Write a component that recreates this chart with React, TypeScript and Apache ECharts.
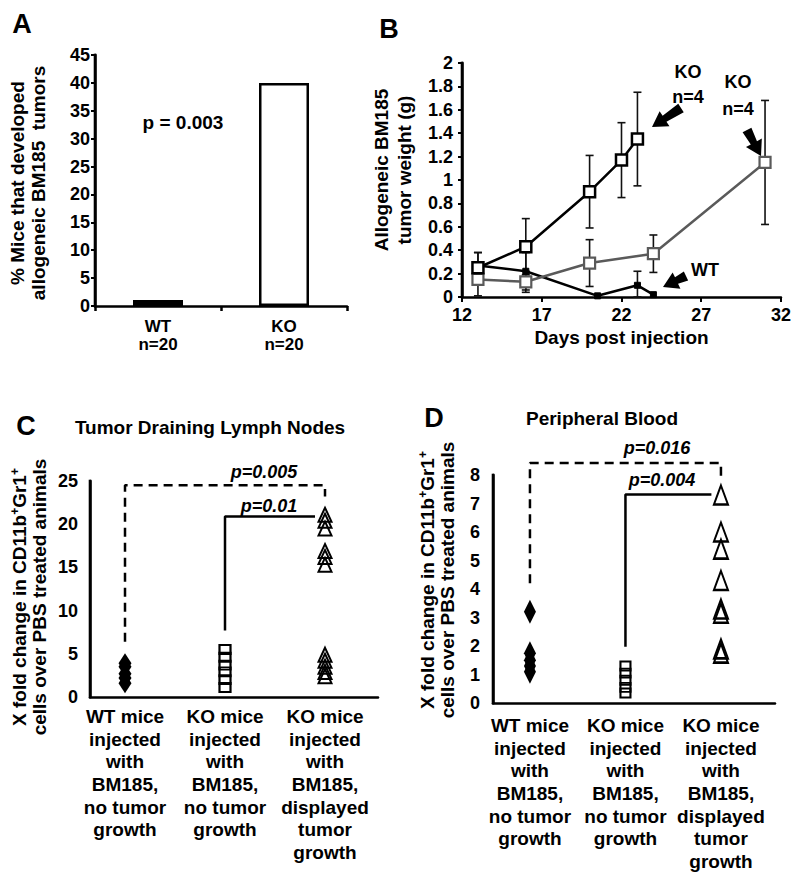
import React, { useEffect, useRef } from 'react';
import * as echarts from 'echarts';

const FONT = '"Liberation Sans", Arial, sans-serif';

// ---------- Panel A ----------
const aCategories = ['WT\nn=20', 'KO\nn=20'];
const aValues = [0, 40];

// ---------- Panel B ----------
const bDaysKO1 = [13, 16, 20, 22, 23];
const bKO1 = [0.25, 0.43, 0.9, 1.17, 1.35];
const bKO1Err = [0.13, 0.24, 0.31, 0.32, 0.4];
const bDaysKO2 = [13, 16, 20, 24, 31];
const bKO2 = [0.15, 0.13, 0.29, 0.37, 1.15];
const bKO2Err = [0.14, 0.09, 0.2, 0.16, 0.53];
const bDaysWT = [13, 16, 20.5, 23, 24];
const bWT = [0.27, 0.22, 0.01, 0.1, 0.02];
const bWTErr = [0.11, 0.16, 0, 0.12, 0];

// ---------- Panels C / D ----------
const groupLabels = [
  'WT mice\ninjected\nwith\nBM185,\nno tumor\ngrowth',
  'KO mice\ninjected\nwith\nBM185,\nno tumor\ngrowth',
  'KO mice\ninjected\nwith\nBM185,\ndisplayed\ntumor\ngrowth',
];
const cWT = [3.9, 3.5, 2.7, 2.2, 1.6];
const cKONo = [5.5, 4.6, 3.7, 2.9, 2.0, 1.1];
const cKOTumor = [21.1, 20.4, 19.5, 16.9, 16.2, 15.3, 4.9, 4.2, 3.5, 2.9, 2.4];
const dWT = [3.2, 1.75, 1.5, 1.3, 1.1];
const dKONo = [1.3, 1.05, 0.8, 0.55, 0.35];
const dKOTumor = [7.3, 6.0, 5.4, 4.3, 3.3, 3.15, 1.9, 1.75];

// significance brackets (group index, value)
const cBracketDashed = [[0, 6.4], [0, 24.5], [2, 24.5], [2, 23.2]];
const cBracketSolid = [[1, 7.7], [1, 20.9], [1.9, 20.9]];
const dBracketDashed = [[0, 4.2], [0, 8.42], [2, 8.42], [2, 7.8]];
const dBracketSolid = [[1, 1.97], [1, 7.32], [1.9, 7.32]];

// axis ranges
const aMax = 45;
const bXMin = 12, bXMax = 32, bYMax = 2;
const cXMin = -0.35, cXMax = 2.53, cYMax = 25;
const dXMin = -0.387, dXMax = 2.566, dYMax = 8;

const black = '#000';
const gray = '#5a5a5a';

const GRIDS = [
  { left: 95, top: 55, width: 252, height: 251 },
  { left: 462, top: 63, width: 323, height: 234 },
  { left: 90, top: 481, width: 288, height: 216 },
  { left: 493, top: 475, width: 282, height: 228 },
];

const mkAxisLine = () => ({ show: true, onZero: false, lineStyle: { color: '#000', width: 2.5, type: 'solid' } });
const lbl = { color: black, fontSize: 18, fontWeight: 'bold', fontFamily: FONT };

function zip(xs: number[], ys: number[]) {
  return xs.map((x, i) => [x, ys[i]]);
}
function errData(xs: number[], ys: number[], es: number[]) {
  const out: number[][] = [];
  xs.forEach((x, i) => {
    if (es[i] > 0) out.push([x, Math.max(0, ys[i] - es[i]), ys[i] + es[i]]);
  });
  return out;
}
function errSeries(data: number[][]) {
  return {
    type: 'custom',
    xAxisIndex: 1,
    yAxisIndex: 1,
    z: 2,
    data,
    encode: { x: 0, y: [1, 2] },
    renderItem: (params: any, api: any) => {
      const x = api.value(0);
      const p1 = api.coord([x, api.value(1)]);
      const p2 = api.coord([x, api.value(2)]);
      const hw = 4;
      const st = { stroke: '#111', lineWidth: 1.6 };
      return {
        type: 'group',
        children: [
          { type: 'line', shape: { x1: p1[0], y1: p1[1], x2: p2[0], y2: p2[1] }, style: st },
          { type: 'line', shape: { x1: p1[0] - hw, y1: p1[1], x2: p1[0] + hw, y2: p1[1] }, style: st },
          { type: 'line', shape: { x1: p2[0] - hw, y1: p2[1], x2: p2[0] + hw, y2: p2[1] }, style: st },
        ],
      };
    },
  };
}

// vertical axis line drawn as a line series at the left edge of a panel
function axisSeries(xAxisIndex: number, yAxisIndex: number, x: number, yMax: number) {
  return {
    type: 'line', xAxisIndex, yAxisIndex, clip: false, z: 6, silent: true,
    data: [[x, 0], [x, yMax]], symbol: 'none',
    lineStyle: { color: black, width: 2.6, cap: 'square' },
  };
}

function arrowPoints(tail: number[], tip: number[], shaft = 3.5, headW = 9, headL = 15) {
  const dx = tip[0] - tail[0];
  const dy = tip[1] - tail[1];
  const L = Math.hypot(dx, dy);
  const ux = dx / L, uy = dy / L;
  const nx = -uy, ny = ux;
  const bx = tip[0] - ux * headL, by = tip[1] - uy * headL;
  return [
    [tail[0] + nx * (shaft + 1.5), tail[1] + ny * (shaft + 1.5)],
    [bx + nx * shaft, by + ny * shaft],
    [bx + nx * headW, by + ny * headW],
    tip,
    [bx - nx * headW, by - ny * headW],
    [bx - nx * shaft, by - ny * shaft],
    [tail[0] - nx * (shaft + 1.5), tail[1] - ny * (shaft + 1.5)],
  ];
}

function txt(text: string, x: number, y: number, size = 19, extra: any = {}) {
  return {
    type: 'text',
    x,
    y,
    rotation: extra.rotation || 0,
    z: 10,
    style: {
      text,
      fill: black,
      fontSize: size,
      fontWeight: 'bold',
      fontStyle: extra.italic ? 'italic' : 'normal',
      fontFamily: FONT,
      align: 'center',
      verticalAlign: 'middle',
      textAlign: 'center',
      textVerticalAlign: 'middle',
      lineHeight: extra.lineHeight || size,
      rich: extra.rich,
    },
  };
}

const supRich = {
  sup: { fontSize: 12, fontWeight: 'bold', fontFamily: FONT, fill: black, verticalAlign: 'top', lineHeight: 20 },
};

function yAx(gridIndex: number, max: number, interval: number, ticks: boolean, margin: number) {
  return {
    gridIndex, type: 'value', position: 'left', offset: 0, min: 0, max, interval,
    axisLine: mkAxisLine(),
    axisTick: { show: ticks, length: 4, lineStyle: { color: black, width: 2 } },
    axisLabel: { ...lbl, margin }, splitLine: { show: false },
  };
}

function buildOption() {
  return {
    animation: false,
    backgroundColor: '#fff',
    grid: GRIDS.map((g) => ({ ...g })),
    xAxis: [
      {
        gridIndex: 0, type: 'category', data: aCategories, axisLine: mkAxisLine(),
        axisTick: { show: true, alignWithLabel: false, length: 5, lineStyle: { color: black, width: 2.5 } },
        axisLabel: { ...lbl, fontSize: 17, lineHeight: 18, margin: 11 }, splitLine: { show: false },
      },
      {
        gridIndex: 1, type: 'value', min: bXMin, max: bXMax, interval: 5, axisLine: mkAxisLine(),
        axisTick: { show: true, length: 5, lineStyle: { color: black, width: 2 } },
        axisLabel: { ...lbl, margin: 9 }, splitLine: { show: false },
        name: 'Days post injection', nameLocation: 'middle', nameGap: 31,
        nameTextStyle: { ...lbl, fontSize: 19 },
      },
      {
        gridIndex: 2, type: 'value', min: cXMin, max: cXMax, axisLine: mkAxisLine(),
        axisTick: { show: false },
        axisLabel: {
          ...lbl, fontSize: 19, lineHeight: 22.7, margin: 8,
          customValues: [0, 1, 2],
          formatter: (v: number) => groupLabels[Math.round(v)],
        },
        splitLine: { show: false },
      },
      {
        gridIndex: 3, type: 'value', min: dXMin, max: dXMax, axisLine: mkAxisLine(),
        axisTick: { show: false },
        axisLabel: {
          ...lbl, fontSize: 19, lineHeight: 22.7, margin: 11,
          customValues: [0, 1, 2],
          formatter: (v: number) => groupLabels[Math.round(v)],
        },
        splitLine: { show: false },
      },
      // hidden helper axis for panel A's vertical axis line
      { gridIndex: 0, type: 'value', min: 0, max: 1, show: false },
    ],
    yAxis: [
      yAx(0, aMax, 5, true, 5),
      yAx(1, bYMax, 0.2, true, 9),
      yAx(2, cYMax, 5, false, 12),
      yAx(3, dYMax, 1, false, 13),
    ],
    series: [
      // axis lines (vertical)
      axisSeries(4, 0, 0, aMax),
      axisSeries(1, 1, bXMin, bYMax),
      axisSeries(2, 2, cXMin, cYMax),
      axisSeries(3, 3, dXMin, dYMax),
      // Panel A
      {
        type: 'bar', xAxisIndex: 0, yAxisIndex: 0, barWidth: 50, barMinHeight: 6,
        data: aValues.map((v, i) => ({
          value: v,
          itemStyle: i === 0
            ? { color: black, borderColor: black, borderWidth: 2 }
            : { color: '#fff', borderColor: black, borderWidth: 2.5 },
        })),
      },
      // Panel B error bars
      errSeries(errData(bDaysKO1, bKO1, bKO1Err)),
      errSeries(errData(bDaysKO2, bKO2, bKO2Err)),
      errSeries(errData(bDaysWT, bWT, bWTErr)),
      {
        type: 'line', name: 'WT', xAxisIndex: 1, yAxisIndex: 1, z: 3,
        data: zip(bDaysWT, bWT), symbol: 'rect', symbolSize: 6, showAllSymbol: true,
        itemStyle: { color: black, borderColor: black, borderWidth: 1 },
        lineStyle: { color: black, width: 2.5 },
      },
      {
        type: 'line', name: 'KO late', xAxisIndex: 1, yAxisIndex: 1, z: 4,
        data: zip(bDaysKO2, bKO2), symbol: 'rect', symbolSize: 11, showAllSymbol: true,
        itemStyle: { color: '#fff', borderColor: gray, borderWidth: 2.2 },
        lineStyle: { color: gray, width: 2.5 },
      },
      {
        type: 'line', name: 'KO early', xAxisIndex: 1, yAxisIndex: 1, z: 5,
        data: zip(bDaysKO1, bKO1), symbol: 'rect', symbolSize: 11, showAllSymbol: true,
        itemStyle: { color: '#fff', borderColor: black, borderWidth: 2.5 },
        lineStyle: { color: black, width: 2.5 },
      },
      // Panel C
      {
        type: 'line', xAxisIndex: 2, yAxisIndex: 2, data: cBracketDashed, symbol: 'none', clip: false,
        lineStyle: { color: black, width: 2.5, type: [9, 6] },
      },
      {
        type: 'line', xAxisIndex: 2, yAxisIndex: 2, data: cBracketSolid, symbol: 'none', clip: false,
        lineStyle: { color: black, width: 2.5 },
      },
      {
        type: 'scatter', xAxisIndex: 2, yAxisIndex: 2, data: cWT.map((v) => [0, v]),
        symbol: 'diamond', symbolSize: [13, 20], itemStyle: { color: black, opacity: 1 },
      },
      {
        type: 'scatter', xAxisIndex: 2, yAxisIndex: 2, data: cKONo.map((v) => [1, v]),
        symbol: 'rect', symbolSize: [11, 9],
        itemStyle: { color: 'rgba(0,0,0,0)', borderColor: black, borderWidth: 2, opacity: 1 },
      },
      {
        type: 'scatter', xAxisIndex: 2, yAxisIndex: 2, data: cKOTumor.map((v) => [2, v]),
        symbol: 'triangle', symbolSize: [13, 14],
        itemStyle: { color: 'rgba(0,0,0,0)', borderColor: black, borderWidth: 2, opacity: 1 },
      },
      // Panel D
      {
        type: 'line', xAxisIndex: 3, yAxisIndex: 3, data: dBracketDashed, symbol: 'none', clip: false,
        lineStyle: { color: black, width: 2.5, type: [9, 6] },
      },
      {
        type: 'line', xAxisIndex: 3, yAxisIndex: 3, data: dBracketSolid, symbol: 'none', clip: false,
        lineStyle: { color: black, width: 2.5 },
      },
      {
        type: 'scatter', xAxisIndex: 3, yAxisIndex: 3, data: dWT.map((v) => [0, v]),
        symbol: 'diamond', symbolSize: [12, 24], itemStyle: { color: black, opacity: 1 },
      },
      {
        type: 'scatter', xAxisIndex: 3, yAxisIndex: 3, data: dKONo.map((v) => [1, v]),
        symbol: 'rect', symbolSize: [10, 9],
        itemStyle: { color: 'rgba(0,0,0,0)', borderColor: black, borderWidth: 2, opacity: 1 },
      },
      {
        type: 'scatter', xAxisIndex: 3, yAxisIndex: 3, data: dKOTumor.map((v) => [2, v]),
        symbol: 'triangle', symbolSize: [14, 19],
        itemStyle: { color: 'rgba(0,0,0,0)', borderColor: black, borderWidth: 2.2, opacity: 1 },
      },
    ],
    graphic: {
      elements: [
        // panel letters
        txt('A', 22, 24, 27),
        txt('B', 389, 29, 27),
        txt('C', 26, 426, 27),
        txt('D', 434, 418, 27),
        // A
        txt('p = 0.003', 183, 122, 19),
        txt('% Mice that developed\nallogeneic BM185  tumors', 28, 183, 19, { rotation: Math.PI / 2, lineHeight: 21 }),
        // B
        txt('Allogeneic BM185\ntumor weight (g)', 393, 170, 19, { rotation: Math.PI / 2, lineHeight: 23 }),
        txt('KO\nn=4', 688, 84, 18, { lineHeight: 25 }),
        txt('KO\nn=4', 738, 95, 18, { lineHeight: 27 }),
        txt('WT', 705, 270, 18),
        { type: 'polygon', z: 10, shape: { points: arrowPoints([681, 108], [652, 127]) }, style: { fill: black } },
        { type: 'polygon', z: 10, shape: { points: arrowPoints([747, 130], [761, 156]) }, style: { fill: black } },
        { type: 'polygon', z: 10, shape: { points: arrowPoints([686, 276], [663, 287]) }, style: { fill: black } },
        // C
        txt('Tumor Draining Lymph Nodes', 210, 427, 19),
        txt('p=0.005', 264, 472, 18, { italic: true }),
        txt('p=0.01', 269, 506, 18, { italic: true }),
        txt('X fold change in CD11b{sup|+}Gr1{sup|+}\ncells over PBS treated animals', 29, 597, 19,
          { rotation: Math.PI / 2, lineHeight: 20, rich: supRich }),
        // D
        txt('Peripheral Blood', 602, 418, 19),
        txt('p=0.016', 657, 448, 18, { italic: true }),
        txt('p=0.004', 662, 480, 18, { italic: true }),
        txt('X fold change in CD11b{sup|+}Gr1{sup|+}\ncells over PBS treated animals', 437, 580, 19,
          { rotation: Math.PI / 2, lineHeight: 20, rich: supRich }),
      ],
    },
  };
}

export default function App() {
  const ref = useRef<HTMLDivElement>(null);
  useEffect(() => {
    if (!ref.current) return;
    const chart = echarts.init(ref.current, null, { renderer: 'svg' });
    chart.setOption(buildOption() as any);
    return () => chart.dispose();
  }, []);
  return (
    <div
      ref={ref}
      style={{ position: 'absolute', left: 0, top: 0, width: 794, height: 880, background: '#fff' }}
    />
  );
}
